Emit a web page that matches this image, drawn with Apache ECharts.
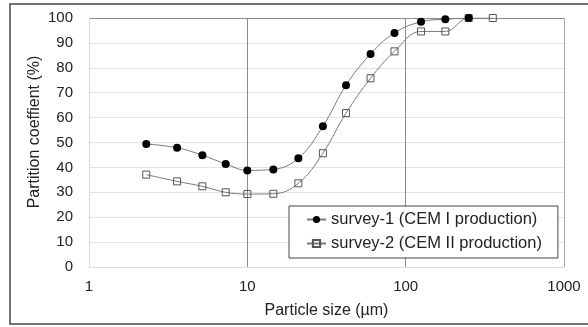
<!DOCTYPE html>
<html>
<head>
<meta charset="utf-8">
<script src="https://cdn.jsdelivr.net/npm/echarts@6/dist/echarts.min.js"></script>
<style>
  html, body { margin: 0; padding: 0; background: #fff; }
  #chart { width: 588px; height: 327px; }
</style>
</head>
<body>
<div id="chart"></div>
<script>
// particle sizes (µm)
const sizes1 = [2.3, 3.6, 5.2, 7.3, 10, 14.6, 21, 30, 42, 60, 85, 125, 178, 250];
const sizes2 = [2.3, 3.6, 5.2, 7.3, 10, 14.6, 21, 30, 42, 60, 85, 125, 178, 250, 355];
// partition coefficient (%)
const survey1 = [49.4, 47.9, 44.9, 41.4, 38.8, 39.2, 43.7, 56.5, 73, 85.5, 94, 98.5, 99.5, 100];
const survey2 = [37.1, 34.4, 32.4, 30, 29.3, 29.4, 33.6, 45.7, 61.8, 75.8, 86.6, 94.6, 94.6, 100, 100];
const seriesNames = ['survey-1 (CEM I production)', 'survey-2 (CEM II production)'];

const font = 'Liberation Sans, Arial, sans-serif';
const chart = echarts.init(document.getElementById('chart'));

// y split lines: light grey, top one darker
const ySplitColors = [];
for (let i = 0; i <= 10; i++) ySplitColors.push(i === 10 ? '#8c8c8c' : '#e3e3e3');

chart.setOption({
  animation: false,
  grid: { left: 89, right: 24, top: 18, bottom: 60 },
  graphic: [
    {
      type: 'rect',
      shape: { x: 10, y: 4, width: 600, height: 320 },
      style: { fill: 'none', stroke: '#444', lineWidth: 1.5 },
      z: -1
    },
    {
      type: 'text',
      x: 35,
      y: 132,
      rotation: Math.PI / 2,
      style: {
        text: 'Partition coeffient (%)',
        font: '16px ' + font,
        fill: '#222',
        align: 'center',
        verticalAlign: 'middle'
      }
    }
  ],
  legend: {
    orient: 'vertical',
    left: 289,
    top: 206,
    data: seriesNames,
    backgroundColor: '#fff',
    borderColor: '#444',
    borderWidth: 1,
    borderRadius: 0,
    padding: [5, 16, 6, 17],
    itemWidth: 19,
    itemHeight: 9,
    itemGap: 7,
    textStyle: { fontFamily: font, fontSize: 16.5, color: '#222', lineHeight: 16 }
  },
  xAxis: {
    type: 'log',
    logBase: 10,
    min: 1,
    max: 1000,
    name: 'Particle size (µm)',
    nameLocation: 'middle',
    nameGap: 36,
    nameTextStyle: { fontFamily: font, fontSize: 16, color: '#222' },
    axisLine: { show: true, lineStyle: { color: '#dcdcdc', width: 1 } },
    axisTick: { show: false },
    axisLabel: {
      fontFamily: font, fontSize: 15, color: '#222', margin: 12,
      formatter: (v) => String(Math.round(v))
    },
    splitLine: { show: true, lineStyle: { color: ['#d9d9d9', '#8c8c8c', '#8c8c8c', '#a8a8a8'], width: 1 } },
    minorTick: { show: false }
  },
  yAxis: {
    type: 'value',
    min: 0,
    max: 100,
    interval: 10,
    axisLine: { show: false },
    axisTick: { show: false },
    axisLabel: { fontFamily: font, fontSize: 15, color: '#222', margin: 16 },
    splitLine: { show: true, lineStyle: { color: ySplitColors, width: 1 } }
  },
  series: [
    {
      name: seriesNames[0],
      type: 'line',
      data: sizes1.map((s, i) => [s, survey1[i]]),
      smooth: 0.4,
      symbol: 'circle',
      symbolSize: 8,
      lineStyle: { color: '#7a7a7a', width: 1 },
      itemStyle: { color: '#000', borderColor: '#000', borderWidth: 0 },
      z: 3
    },
    {
      name: seriesNames[1],
      type: 'line',
      data: sizes2.map((s, i) => [s, survey2[i]]),
      smooth: 0.4,
      symbol: 'rect',
      symbolSize: 7,
      lineStyle: { color: '#7a7a7a', width: 1 },
      itemStyle: { color: 'rgba(255,255,255,0)', borderColor: '#555', borderWidth: 1 },
      z: 2
    }
  ]
});
</script>
</body>
</html>
